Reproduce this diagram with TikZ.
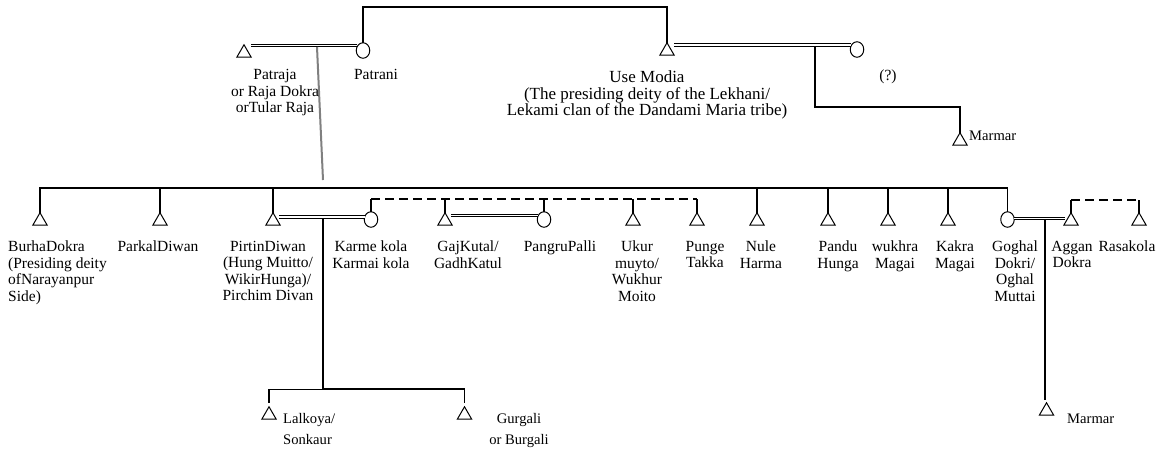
\documentclass[tikz,border=0pt]{standalone}
\usepackage{fontspec}
\setmainfont{Liberation Serif}
\usetikzlibrary{shapes.geometric}

\newcommand\lblfont{\fontsize{15.5}{16.5}\selectfont}
\newcommand\deityfont{\fontsize{17}{16.7}\selectfont}
\newcommand\grandfont{\fontsize{14.6}{21.3}\selectfont}

\tikzset{
  male/.style={draw, line width=1pt, regular polygon, regular polygon sides=3,
    minimum size=16.5pt, inner sep=0pt, outer sep=0pt},
  female/.style={draw, line width=1pt, ellipse, minimum width=13.5pt,
    minimum height=15.5pt, inner sep=0pt, outer sep=0pt},
  conn/.style={line width=1.8pt},
  marriage/.style={double, line width=1.2pt, double distance=1.5pt},
  siblings/.style={line width=1.8pt, dash pattern=on 9pt off 5pt},
  lbl/.style={font=\lblfont, align=center, inner sep=0pt, anchor=north},
}

\begin{document}
\begin{tikzpicture}[x=1pt, y=-1pt]
\fill[white] (0,0) rectangle (1169,451);
\useasboundingbox (0,0) rectangle (1169,451);

% ---------- first generation ----------
\node[male]   (patraja) at (244,53)   {};
\node[female] (patrani) at (363,50.5) {};
\node[male]   (usemodia) at (667,51)  {};
\node[female] (wife)    at (857,49.5) {};
\node[male]   (marmarA) at (960,141)  {};

\coordinate (topbar) at (0,7);
\draw[conn] (patrani.north) -- (patrani.north |- topbar) -| (usemodia.north);

\draw[marriage] ([xshift=7pt,yshift=7.5pt]patraja.center) -- ([xshift=-6.5pt,yshift=5pt]patrani.center);
\draw[marriage] ([xshift=7pt,yshift=6pt]usemodia.center) -- ([xshift=-6.5pt,yshift=4.5pt]wife.center);

% descent from Patraja and Patrani
\coordinate (descA) at (317,47);
\coordinate (descAend) at (323,180);
\draw[line width=2pt, black!50] (descA) -- (descAend);

% descent from Use Modia
\coordinate (descB) at (815,47);
\coordinate (stepB) at (0,107);
\draw[conn] (descB) -- (descB |- stepB) -| (marmarA.north);

\node[lbl] (patrajaL) at (275,69.4) {Patraja\\or Raja Dokra\\orTular Raja};
\node[lbl] (patraniL) at (376,69.4) {Patrani};
\node[lbl, font=\deityfont] (usemodiaL) at (647,70.4)
  {Use Modia\\(The presiding deity of the Lekhani/\\Lekami clan of the Dandami Maria tribe)};
\node[font=\lblfont, inner sep=0pt] (wifeL) at (888,77) {(?)};
\node[font=\grandfont, inner sep=0pt, anchor=base west] (marmarAL) at (969,140) {Marmar};

% ---------- second generation ----------
\node[male]   (burha)  at (40,221)   {};
\node[male]   (parkal) at (160,221)  {};
\node[male]   (pirtin) at (273,221)  {};
\node[female] (karme)  at (371,219.5){};
\node[male]   (gaj)    at (445,221)  {};
\node[female] (pangru) at (544,219.5){};
\node[male]   (ukur)   at (633,221)  {};
\node[male]   (punge)  at (697,221)  {};
\node[male]   (nule)   at (757,221)  {};
\node[male]   (pandu)  at (828,221)  {};
\node[male]   (wukhra) at (888,221)  {};
\node[male]   (kakra)  at (948,221)  {};
\node[female] (goghal) at (1007.5,219.5){};
\node[male]   (aggan)  at (1071,221) {};
\node[male]   (rasa)   at (1139,221) {};

% sibling bar
\coordinate (bar) at (0,188);
\draw[conn] (burha.north) -- (burha.north |- bar) -| (goghal.north);
\foreach \c in {parkal,pirtin,nule,pandu,wukhra,kakra}
  \draw[conn] (\c.north) -- (\c.north |- bar);

% half-sibling bars (dashed)
\coordinate (dbar) at (0,199);
\draw[siblings] (karme.north |- dbar) -- (punge.north |- dbar);
\foreach \c in {karme,gaj,pangru,ukur,punge}
  \draw[conn] (\c.north) -- (\c.north |- dbar);
\coordinate (dbarB) at (0,200);
\draw[siblings] (aggan.north |- dbarB) -- (rasa.north |- dbarB);
\foreach \c in {aggan,rasa}
  \draw[conn] (\c.north) -- (\c.north |- dbarB);

% marriages
\draw[marriage] ([xshift=6pt,yshift=4pt]pirtin.center) -- ([xshift=-6.5pt,yshift=2.5pt]karme.center);
\draw[marriage] ([xshift=6pt,yshift=5.5pt]gaj.center) -- ([xshift=-6.5pt,yshift=4pt]pangru.center);
\draw[marriage] ([xshift=6.5pt,yshift=1pt]goghal.center) -- ([xshift=-6pt,yshift=2.5pt]aggan.center);

% labels
\node[lbl, align=left, anchor=north west] (burhaL) at (8,241)
  {BurhaDokra\\(Presiding deity\\ofNarayanpur\\Side)};
\node[lbl] (parkalL) at (158,241) {ParkalDiwan};
\node[lbl] (pirtinL) at (268,241) {PirtinDiwan\\(Hung Muitto/\\WikirHunga)/\\Pirchim Divan};
\node[lbl] (karmeL)  at (371,241) {Karme kola\\Karmai kola};
\node[lbl] (gajL)    at (468,241) {GajKutal/\\GadhKatul};
\node[lbl] (pangruL) at (560,241) {PangruPalli};
\node[lbl] (ukurL)   at (637,241) {Ukur\\muyto/\\Wukhur\\Moito};
\node[lbl] (pungeL)  at (705,241) {Punge\\Takka};
\node[lbl] (nuleL)   at (761,241) {Nule\\Harma};
\node[lbl] (panduL)  at (838,241) {Pandu\\Hunga};
\node[lbl] (wukhraL) at (895,241) {wukhra\\Magai};
\node[lbl] (kakraL)  at (955,241) {Kakra\\Magai};
\node[lbl] (goghalL) at (1015,241) {Goghal\\Dokri/\\Oghal\\Muttai};
\node[lbl] (agganL)  at (1072,241) {Aggan\\Dokra};
\node[lbl] (rasaL)   at (1127,241) {Rasakola};

% ---------- third generation ----------
\node[male] (lalkoya) at (269,415)  {};
\node[male] (gurgali) at (464.5,415){};
\node[male] (marmarB) at (1046.5,411){};

\coordinate (descC) at (323,219);
\coordinate (barC) at (0,389);
\draw[conn] (descC) -- (descC |- barC);
\draw[line width=1pt] (descC |- barC) -- (lalkoya.north |- barC);
\draw[conn] (descC |- barC) -- (gurgali.north |- barC);
\draw[conn, shorten >=4pt] (lalkoya.north |- barC) -- (lalkoya.north);
\draw[conn, shorten >=4pt] (gurgali.north |- barC) -- (gurgali.north);

\coordinate (descD) at (1045,220);
\draw[conn, shorten >=3pt] (descD) -- (descD |- marmarB.north);

\node[font=\grandfont, align=left, inner sep=0pt, anchor=north west] (lalkoyaL) at (283,413) {Lalkoya/\\Sonkaur};
\node[font=\grandfont, align=center, inner sep=0pt, anchor=north] (gurgaliL) at (519,413) {Gurgali\\or Burgali};
\node[font=\grandfont, inner sep=0pt, anchor=base west] (marmarBL) at (1067,423) {Marmar};
\end{tikzpicture}
\end{document}
